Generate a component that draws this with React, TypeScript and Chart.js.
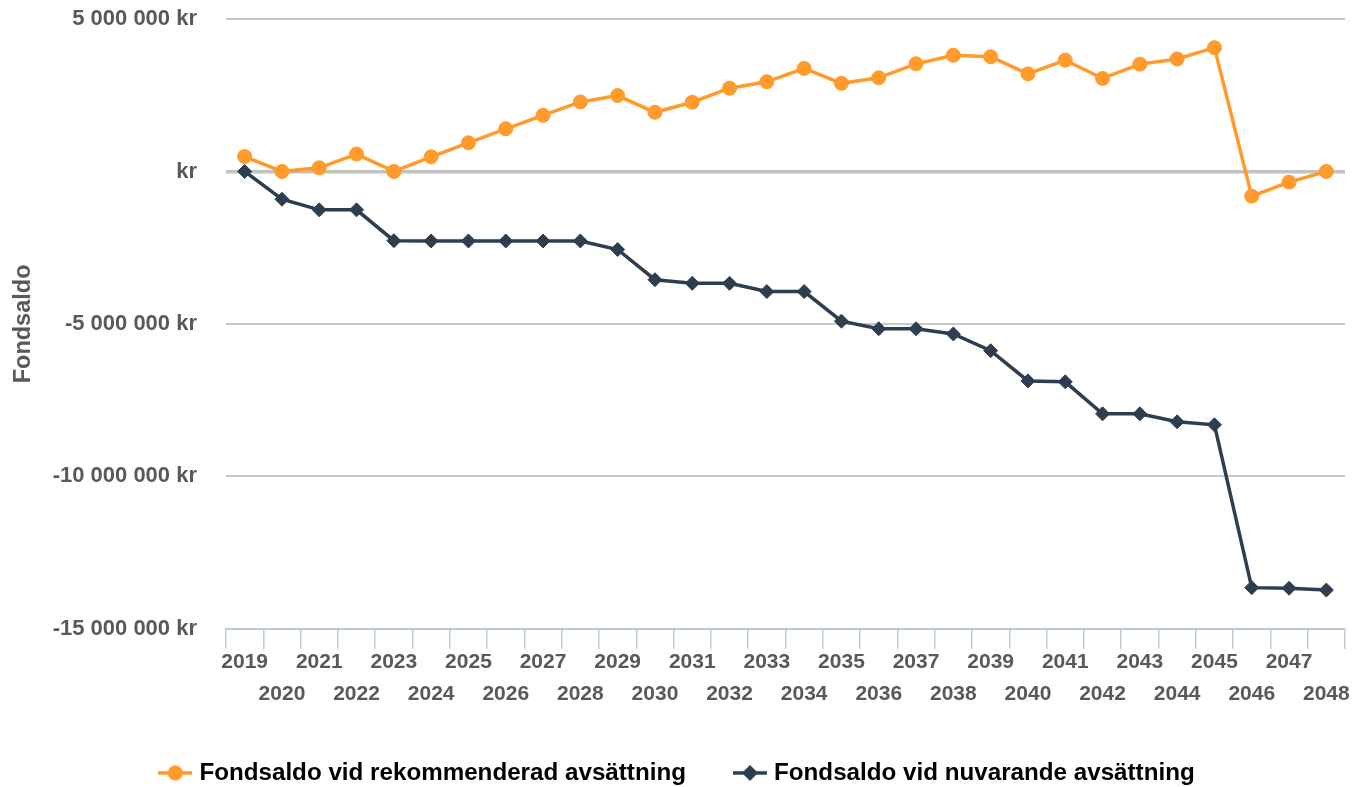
import React, { useEffect, useRef } from "react";
import { Chart, registerables } from "chart.js";

Chart.register(...registerables);

const years = [
  "2019", "2020", "2021", "2022", "2023", "2024", "2025", "2026", "2027", "2028",
  "2029", "2030", "2031", "2032", "2033", "2034", "2035", "2036", "2037", "2038",
  "2039", "2040", "2041", "2042", "2043", "2044", "2045", "2046", "2047", "2048",
];

const recommended = [
  490000, 0, 120000, 570000, 0, 480000, 940000, 1400000, 1840000, 2280000,
  2490000, 1940000, 2270000, 2730000, 2940000, 3380000, 2890000, 3070000, 3530000, 3810000,
  3760000, 3200000, 3650000, 3050000, 3520000, 3690000, 4060000, -810000, -350000, 0,
];

const current = [
  0, -910000, -1260000, -1260000, -2270000, -2280000, -2280000, -2280000, -2280000, -2280000,
  -2560000, -3550000, -3670000, -3670000, -3940000, -3940000, -4910000, -5160000, -5160000, -5330000,
  -5880000, -6870000, -6900000, -7950000, -7950000, -8210000, -8310000, -13650000, -13670000, -13730000,
];

const seriesNames = [
  "Fondsaldo vid rekommenderad avsättning",
  "Fondsaldo vid nuvarande avsättning",
];
const yTitle = "Fondsaldo";
const yMin = -15000000;
const yMax = 5000000;
const yStep = 5000000;

const ORANGE = "#FF9A2B";
const NAVY = "#2C3E50";
const LABEL = "#595959";
const FONT = "'Liberation Sans', Arial, sans-serif";

function fmtKr(v: number): string {
  if (v === 0) return "kr";
  const s = Math.abs(v).toString().replace(/\B(?=(\d{3})+(?!\d))/g, " ");
  return (v < 0 ? "-" : "") + s + " kr";
}

function makeLegendIcon(color: string, style: "circle" | "diamond"): HTMLCanvasElement {
  const c = document.createElement("canvas");
  c.width = 34;
  c.height = 18;
  const ctx = c.getContext("2d")!;
  ctx.strokeStyle = color;
  ctx.fillStyle = color;
  ctx.lineWidth = 3.5;
  ctx.beginPath();
  ctx.moveTo(0, 9);
  ctx.lineTo(34, 9);
  ctx.stroke();
  ctx.beginPath();
  if (style === "circle") {
    ctx.arc(17, 9, 7.5, 0, Math.PI * 2);
  } else {
    ctx.moveTo(17 - 8, 9);
    ctx.lineTo(17, 1);
    ctx.lineTo(17 + 8, 9);
    ctx.lineTo(17, 17);
    ctx.closePath();
  }
  ctx.fill();
  return c;
}

export default function App() {
  const ref = useRef<HTMLCanvasElement | null>(null);

  useEffect(() => {
    if (!ref.current) return;
    const icons = [makeLegendIcon(ORANGE, "circle"), makeLegendIcon(NAVY, "diamond")];
    const colors = [ORANGE, NAVY];
    const chart = new Chart(ref.current, {
      type: "line",
      data: {
        labels: years,
        datasets: [
          {
            label: seriesNames[0],
            data: recommended,
            borderColor: ORANGE,
            backgroundColor: ORANGE,
            borderWidth: 3.5,
            pointStyle: "circle",
            pointRadius: 7,
            pointBorderWidth: 1,
            pointBackgroundColor: ORANGE,
            pointBorderColor: ORANGE,
            tension: 0,
          },
          {
            label: seriesNames[1],
            data: current,
            borderColor: NAVY,
            backgroundColor: NAVY,
            borderWidth: 3.5,
            pointStyle: "rectRot",
            pointRadius: 7,
            pointBorderWidth: 1,
            pointBackgroundColor: NAVY,
            pointBorderColor: NAVY,
            tension: 0,
          },
        ],
      },
      options: {
        responsive: false,
        animation: false,
        devicePixelRatio: 1,
        layout: { padding: { top: 19, right: 8, left: 13, bottom: -8 } },
        plugins: {
          tooltip: { enabled: false },
          legend: {
            position: "bottom",
            labels: {
              usePointStyle: true,
              pointStyleWidth: 24,
              padding: 52,
              color: "#3a3a3a",
              font: { family: FONT, size: 24.2, weight: "bold" },
              generateLabels: () =>
                seriesNames.map((name, i) => ({
                  text: name,
                  pointStyle: icons[i] as any,
                  fillStyle: colors[i],
                  strokeStyle: colors[i],
                  lineWidth: 0,
                  hidden: false,
                  datasetIndex: i,
                })),
            },
          },
        },
        scales: {
          x: {
            type: "category",
            offset: true,
            afterFit: (scale: any) => {
              scale.height = 80;
            },
            grid: {
              offset: true,
              drawOnChartArea: false,
              drawTicks: true,
              tickLength: 20,
              color: "#BBCBDD",
              lineWidth: 1.5,
            },
            border: { display: true, color: "#BBCBDD", width: 2 },
            ticks: {
              autoSkip: false,
              maxRotation: 0,
              minRotation: 0,
              padding: -2,
              color: LABEL,
              font: { family: FONT, size: 21, weight: "bold", lineHeight: 1.5 },
              callback: function (_v: any, index: number) {
                const y = years[index];
                return index % 2 === 0 ? [y, ""] : ["", y];
              },
            },
          },
          y: {
            min: yMin,
            max: yMax,
            afterFit: (scale: any) => {
              scale.width = 213;
            },
            title: {
              display: true,
              text: yTitle,
              color: LABEL,
              padding: { top: -4, bottom: 0 },
              font: { family: FONT, size: 23.5, weight: "bold" },
            },
            grid: {
              drawTicks: true,
              tickLength: 24,
              tickColor: "rgba(0,0,0,0)",
              color: (ctx: any) =>
                ctx.tick && ctx.tick.value === yMin
                  ? "rgba(0,0,0,0)"
                  : ctx.tick && ctx.tick.value === 0
                  ? "#C2C2C2"
                  : "#C8C8C8",
              lineWidth: (ctx: any) => (ctx.tick && ctx.tick.value === 0 ? 3.5 : 2),
            },
            border: { display: false },
            ticks: {
              stepSize: yStep,
              padding: 5,
              color: LABEL,
              font: { family: FONT, size: 22, weight: "bold" },
              callback: (v: any) => fmtKr(Number(v)),
            },
          },
        },
      },
    });
    return () => chart.destroy();
  }, []);

  return (
    <div style={{ position: "absolute", left: 0, top: 0, width: 1353, height: 787, background: "#fff" }}>
      <canvas ref={ref} width={1353} height={787} style={{ display: "block", width: 1353, height: 787 }} />
    </div>
  );
}
